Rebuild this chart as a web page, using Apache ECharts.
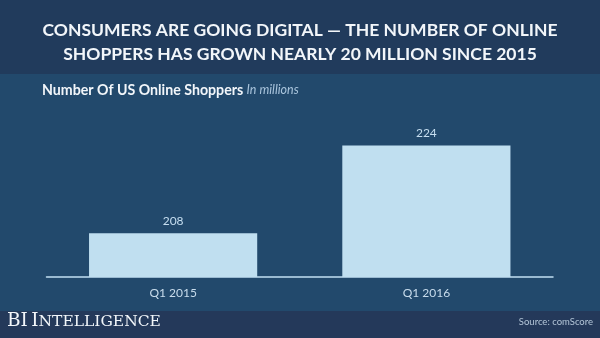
<!DOCTYPE html>
<html>
<head>
<meta charset="utf-8">
<script src="https://cdn.jsdelivr.net/npm/echarts@6/dist/echarts.min.js"></script>
<style>
  html, body { margin: 0; padding: 0; background: #22496c; }
  #chart { width: 600px; height: 338px; }
</style>
</head>
<body>
<div id="chart"></div>
<script>
// US online shoppers, millions
const quarters = ['Q1 2015', 'Q1 2016'];
const shoppers = [208, 224];

const chart = echarts.init(document.getElementById('chart'), null, { renderer: 'canvas' });

chart.setOption({
  backgroundColor: '#22496c',
  animation: false,
  title: {
    text: 'CONSUMERS ARE GOING DIGITAL \u2014 THE NUMBER OF ONLINE\nSHOPPERS HAS GROWN NEARLY 20 MILLION SINCE 2015',
    left: 'center',
    top: 13,
    textStyle: {
      color: '#f2f6fa',
      fontFamily: 'Lato',
      fontWeight: 'bold',
      fontSize: 17.5,
      lineHeight: 24,
      align: 'center'
    }
  },
  graphic: [
    // header band
    { type: 'rect', left: 0, top: 0, z: -10, shape: { width: 600, height: 74 }, style: { fill: '#213b5c' } },
    // footer band
    { type: 'rect', left: 0, top: 311, z: -10, shape: { width: 600, height: 27 }, style: { fill: '#24395a' } },
    {
      type: 'text', left: 42, top: 83,
      style: {
        text: '{b|Number Of US Online Shoppers} {i|In millions}',
        rich: {
          b: { fill: '#f2f6fa', fontFamily: 'Lato', fontWeight: 'bold', fontSize: 14.2 },
          i: { fill: '#a9c4dc', fontFamily: 'Lato', fontStyle: 'italic', fontSize: 12.5 }
        }
      }
    },
    {
      type: 'text', left: 7, top: 312,
      style: {
        text: '{c|BI} {c|I}{s|NTELLIGENCE}',
        rich: {
          c: { fill: '#f2f6fa', fontFamily: 'DejaVu Serif', fontSize: 18.5 },
          s: { fill: '#f2f6fa', fontFamily: 'DejaVu Serif', fontSize: 15.5 }
        }
      }
    },
    {
      type: 'text', right: 7, top: 317,
      style: { text: 'Source: comScore', fill: '#b4c6d8', fontFamily: 'Lato', fontSize: 9.5 }
    }
  ],
  grid: { left: 46.5, right: 47, top: 57.8, bottom: 61 },
  xAxis: {
    type: 'category',
    data: quarters,
    axisLine: { lineStyle: { color: '#c2e0f2', width: 1.5 } },
    axisTick: { show: false },
    axisLabel: { color: '#c8dcec', fontFamily: 'Lato', fontSize: 12, margin: 10 }
  },
  yAxis: {
    type: 'value',
    min: 200,
    max: 240,
    show: false,
    splitLine: { show: false }
  },
  series: [{
    type: 'bar',
    data: shoppers,
    barWidth: '66.4%',
    itemStyle: { color: '#c0dff0' },
    label: {
      show: true,
      position: 'top',
      distance: 6,
      color: '#c6def0',
      fontFamily: 'Lato',
      fontSize: 12
    }
  }]
});
</script>
</body>
</html>
